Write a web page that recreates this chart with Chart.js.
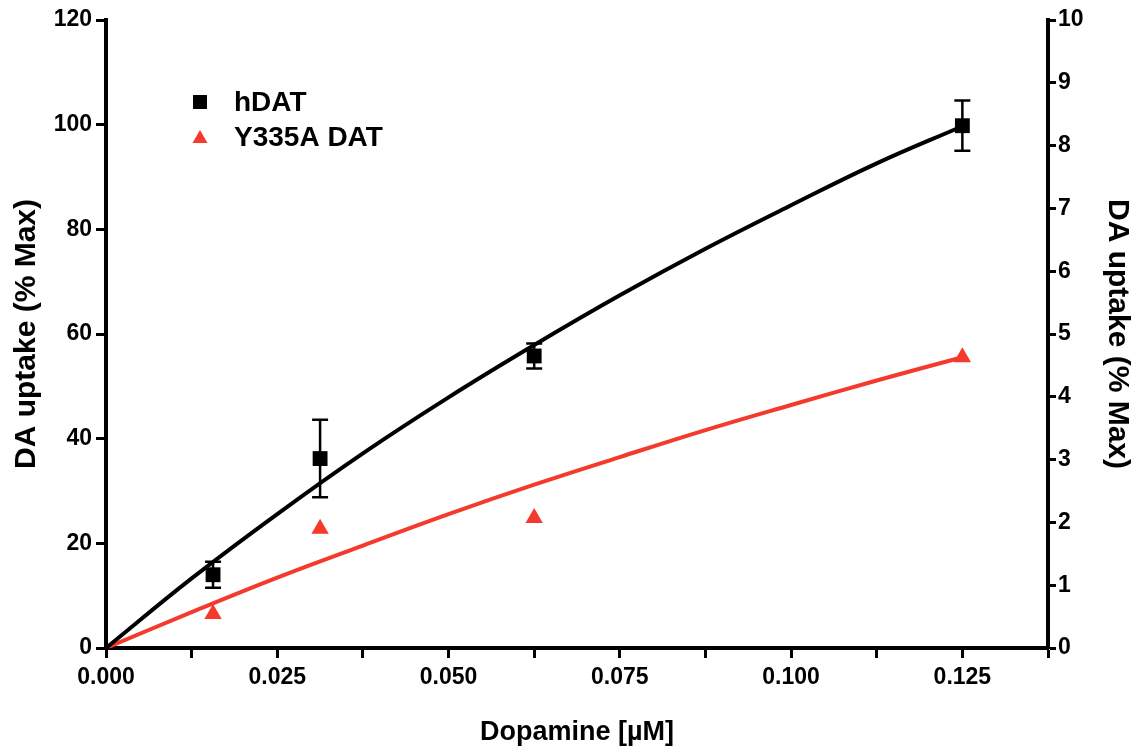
<!DOCTYPE html>
<html>
<head>
<meta charset="utf-8">
<script src="https://cdn.jsdelivr.net/npm/chart.js@4.4.1/dist/chart.umd.min.js"></script>
<style>
  html, body { margin: 0; padding: 0; background: #fff; }
  #wrap { width: 1140px; height: 754px; }
</style>
</head>
<body>
<div id="wrap"><canvas id="uptake-chart" width="1140" height="754"></canvas></div>
<script>
// measured points
var doseX = [0.015625, 0.03125, 0.0625, 0.125];
var hdatVals = [14.0, 36.2, 55.8, 99.8];
var hdatErr = [2.5, 7.4, 2.4, 4.8];
var y335aVals = [0.54, 1.90, 2.07, 4.63];   // right axis

// fitted curves
var curveX = [0, 0.0125, 0.025, 0.0375, 0.05, 0.0625, 0.075, 0.0875, 0.1, 0.1125, 0.125];
var hdatFit = [0, 13.3, 25.6, 37.2, 47.9, 57.9, 67.4, 76.3, 84.6, 92.6, 99.7];
var y335aFit = [0, 0.57, 1.12, 1.63, 2.13, 2.60, 3.04, 3.47, 3.87, 4.26, 4.63];

var xTicks = [0, 0.0125, 0.025, 0.0375, 0.05, 0.0625, 0.075, 0.0875, 0.1, 0.1125, 0.125, 0.1375];

var RED = '#f4392d';
var FONT = "'Liberation Sans', Arial, sans-serif";

function pts(xs, ys) {
    var out = [];
    xs.forEach(function(x, i) { out.push({x: x, y: ys[i]}); });
    return out;
}

var errorBars = {
    id: 'errorBars',
    afterDatasetsDraw: function(chart) {
        var ctx = chart.ctx, xs = chart.scales.x, ys = chart.scales.y;
        ctx.save();
        ctx.strokeStyle = '#000';
        ctx.lineWidth = 2.5;
        doseX.forEach(function(x, i) {
            var px = xs.getPixelForValue(x);
            var top = ys.getPixelForValue(hdatVals[i] + hdatErr[i]);
            var bot = ys.getPixelForValue(hdatVals[i] - hdatErr[i]);
            ctx.beginPath();
            ctx.moveTo(px, top); ctx.lineTo(px, bot);
            ctx.moveTo(px - 8, top); ctx.lineTo(px + 8, top);
            ctx.moveTo(px - 8, bot); ctx.lineTo(px + 8, bot);
            ctx.stroke();
        });
        ctx.restore();
    }
};

var innerLegend = {
    id: 'innerLegend',
    afterDraw: function(chart) {
        var ctx = chart.ctx;
        ctx.save();
        ctx.font = 'bold 28px ' + FONT;
        ctx.textBaseline = 'middle';
        ctx.fillStyle = '#000';
        ctx.fillRect(193, 95, 14, 14);
        ctx.fillText('hDAT', 234, 103);
        ctx.fillStyle = RED;
        ctx.beginPath();
        ctx.moveTo(200, 130); ctx.lineTo(207.5, 143); ctx.lineTo(192.5, 143);
        ctx.closePath(); ctx.fill();
        ctx.fillStyle = '#000';
        ctx.fillText('Y335A DAT', 234, 138);
        ctx.restore();
    }
};

new Chart(document.getElementById('uptake-chart'), {
    type: 'scatter',
    data: {
        datasets: [
            { label: 'hDAT fit', type: 'line', data: pts(curveX, hdatFit), yAxisID: 'y',
              borderColor: '#000', borderWidth: 4, pointRadius: 0, tension: 0.4, fill: false },
            { label: 'Y335A DAT fit', type: 'line', data: pts(curveX, y335aFit), yAxisID: 'y1',
              borderColor: RED, borderWidth: 4, pointRadius: 0, tension: 0.4, fill: false },
            { label: 'hDAT', data: pts(doseX, hdatVals), yAxisID: 'y',
              pointStyle: 'rect', pointRadius: 10.5, backgroundColor: '#000', borderColor: '#000', borderWidth: 0 },
            { label: 'Y335A DAT', data: pts(doseX, y335aVals), yAxisID: 'y1',
              pointStyle: 'triangle', pointRadius: 10, backgroundColor: RED, borderColor: RED, borderWidth: 0 }
        ]
    },
    options: {
        responsive: false,
        animation: false,
        layout: { padding: { top: 20, left: 0, right: 0, bottom: 0 } },
        plugins: { legend: { display: false }, tooltip: { enabled: false } },
        scales: {
            x: {
                type: 'linear', min: 0, max: 0.1375,
                afterBuildTicks: function(scale) { scale.ticks = xTicks.map(function(v) { return {value: v}; }); },
                afterFit: function(scale) { scale.height = 106; },
                border: { color: '#000', width: 4 },
                grid: { drawOnChartArea: false, color: '#000', tickLength: 10, tickWidth: 3 },
                ticks: {
                    color: '#000', padding: 6, maxRotation: 0, autoSkip: false,
                    font: { family: FONT, size: 23, weight: 'bold' },
                    callback: function(v, i) { return i % 2 === 0 ? v.toFixed(3) : ''; }
                },
                title: { display: true, text: 'Dopamine [µM]', color: '#000',
                         font: { family: FONT, size: 27, weight: 'bold' }, padding: { top: 0, bottom: 5 } }
            },
            y: {
                position: 'left', min: 0, max: 120,
                afterFit: function(scale) { scale.width = 106; },
                border: { color: '#000', width: 4 },
                grid: { drawOnChartArea: false, color: '#000', tickLength: 10, tickWidth: 3 },
                ticks: { stepSize: 20, color: '#000', padding: 4,
                         font: { family: FONT, size: 23, weight: 'bold' } },
                title: { display: true, text: 'DA uptake (% Max)', color: '#000',
                         font: { family: FONT, size: 30, weight: 'bold' }, padding: { top: 9, bottom: 0 } }
            },
            y1: {
                position: 'right', min: 0, max: 10,
                afterFit: function(scale) { scale.width = 92; },
                border: { color: '#000', width: 4 },
                grid: { drawOnChartArea: false, color: '#000', tickLength: 8, tickWidth: 3 },
                ticks: { stepSize: 1, color: '#000', padding: 2,
                         font: { family: FONT, size: 23, weight: 'bold' } },
                title: { display: true, text: 'DA uptake (% Max)', color: '#000',
                         font: { family: FONT, size: 30, weight: 'bold' }, padding: { top: 5, bottom: 0 } }
            }
        }
    },
    plugins: [errorBars, innerLegend]
});
</script>
</body>
</html>
